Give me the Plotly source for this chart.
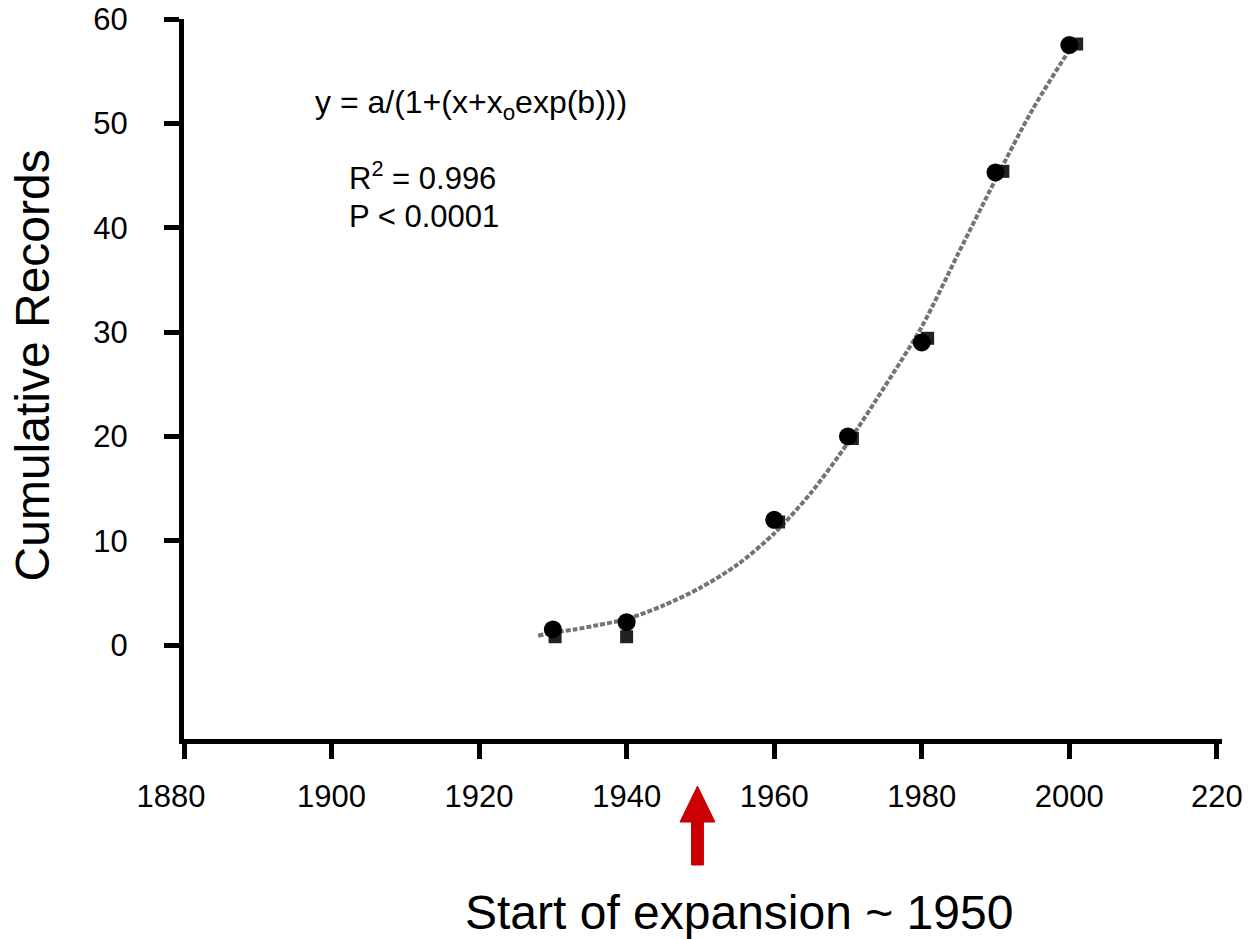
import plotly.graph_objects as go

# Observed records (black circles)
obs_years = [1930, 1940, 1960, 1970, 1980, 1990, 2000]
obs_records = [1.5, 2.2, 12.0, 20.0, 29.0, 45.3, 57.5]

# Secondary square markers visible behind the circles
sq_years = [1930.3, 1940.0, 1960.6, 1970.6, 1980.8, 1991.0, 2001.0]
sq_records = [0.8, 0.8, 11.8, 19.8, 29.4, 45.4, 57.6]

# Fitted curve
fit_years = [1928, 1930, 1933, 1936, 1940, 1945, 1950, 1955,
             1960, 1965, 1970, 1975, 1980, 1985, 1990, 1995, 2000, 2001]
fit_records = [0.9, 1.2, 1.5, 1.9, 2.5, 3.8, 5.5, 7.7,
               10.7, 14.6, 19.4, 24.8, 30.5, 37.6, 44.6, 51.3, 57.0, 58.0]

x_tick_vals = [1880, 1900, 1920, 1940, 1960, 1980, 2000, 2020]
x_tick_text = ["1880\u00a0\u00a0\u00a0", "1900", "1920", "1940", "1960", "1980", "2000", "220"]
y_tick_vals = [0, 10, 20, 30, 40, 50, 60]

FONT = "Liberation Sans, Arial, sans-serif"

fig = go.Figure()
fig.add_trace(go.Scatter(
    x=fit_years, y=fit_records, mode="lines",
    line=dict(color="#747474", width=4, dash="5px,2px", shape="spline", smoothing=0.8),
    hoverinfo="skip", showlegend=False))
fig.add_trace(go.Scatter(
    x=sq_years, y=sq_records, mode="markers",
    marker=dict(symbol="square", size=13, color="#222222"),
    showlegend=False))
fig.add_trace(go.Scatter(
    x=obs_years, y=obs_records, mode="markers",
    marker=dict(symbol="circle", size=18, color="black"),
    showlegend=False))

W, H = 1251, 939
L, R, T, B = 183.6, 1222, 19, 739

fig.update_layout(
    width=W, height=H, autosize=False,
    margin=dict(l=L, r=W - R, t=T, b=H - B, pad=0),
    paper_bgcolor="white", plot_bgcolor="white",
    font=dict(family=FONT, color="black", size=31),
    xaxis=dict(range=[1880, 2020.7], tickvals=x_tick_vals, ticktext=x_tick_text,
               showgrid=False, zeroline=False, showline=True, linecolor="black",
               linewidth=5, ticks="outside", ticklen=15, tickwidth=5,
               tickcolor="black", tickfont=dict(size=31, family=FONT),
               ticklabelstandoff=11, automargin=False),
    yaxis=dict(range=[-9.0, 60], tickvals=y_tick_vals,
               showgrid=False, zeroline=False, showline=True, linecolor="black",
               linewidth=5, ticks="outside", ticklen=15, tickwidth=5,
               tickcolor="black", tickfont=dict(size=31, family=FONT),
               ticklabelstandoff=30, automargin=False),
)

def px_x(px):
    return (px - L) / (R - L)

def px_y(py):
    return (B - py) / (B - T)

annos = [
    dict(text="y = a/(1+(x+x<sub>o</sub>exp(b)))", x=px_x(313), y=px_y(104),
         xanchor="left", yanchor="middle", font=dict(size=32)),
    dict(text="R<sup>2</sup> = 0.996", x=px_x(347), y=px_y(176),
         xanchor="left", yanchor="middle", font=dict(size=31)),
    dict(text="P < 0.0001", x=px_x(347), y=px_y(216),
         xanchor="left", yanchor="middle", font=dict(size=31)),
    dict(text="Cumulative Records", x=px_x(33), y=px_y(365), textangle=-90,
         xanchor="center", yanchor="middle", font=dict(size=48)),
    dict(text="Start of expansion ~ 1950", x=px_x(739), y=px_y(912),
         xanchor="center", yanchor="middle", font=dict(size=48)),
]
for a in annos:
    fig.add_annotation(xref="paper", yref="paper", showarrow=False, **a)

# Red block arrow pointing at 1950
cx = 1949.6
hw, sw = 2.37, 0.81
ya, yb, yc = px_y(786), px_y(822), px_y(865)
path = (f"M {cx},{ya} L {cx + hw},{yb} L {cx + sw},{yb} L {cx + sw},{yc} "
        f"L {cx - sw},{yc} L {cx - sw},{yb} L {cx - hw},{yb} Z")
fig.add_shape(type="path", path=path, xref="x", yref="paper",
              fillcolor="#CC0000", line=dict(color="#CC0000", width=1))

fig.write_html("out.html")
